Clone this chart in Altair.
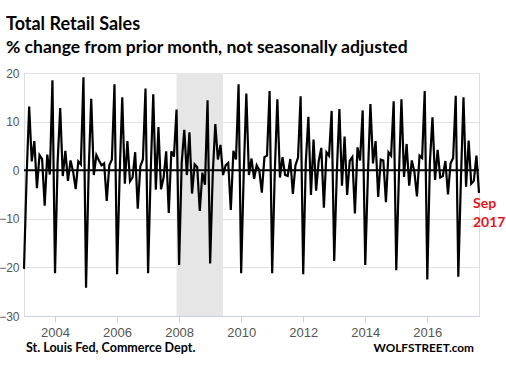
import altair as alt
import pandas as pd

# monthly % change, NSA
v2003 = [-20.3, -1.5, 13.1, 1.8, 6.0, -3.7, 3.1, 2.3, -7.3, 3.2, -0.9, 18.5]
v2004 = [-21.2, 1.5, 12.8, -1.2, 4.0, -2.2, 2.0, -0.3, -3.9, 1.8, 1.2, 19.1]
v2005 = [-24.2, -0.5, 14.7, -1.0, 3.1, 2.0, 1.0, 1.4, -6.3, 1.0, 2.2, 17.7]
v2006 = [-21.4, -1.0, 15.0, -2.8, 6.0, -2.3, -1.5, 3.7, -7.9, 0.8, 2.2, 16.8]
v2007 = [-21.2, -0.5, 15.6, -4.0, 8.9, -3.9, -1.5, 3.9, -8.8, 3.9, 2.8, 12.5]
v2008 = [-19.5, 1.5, 8.3, -1.0, 7.8, -4.8, 1.2, 0.6, -8.4, -0.5, -3.0, 14.4]
v2009 = [-19.2, -1.0, 9.5, 2.2, 5.2, -1.0, 1.0, 1.5, -8.2, 4.0, 2.2, 17.7]
v2010 = [-21.2, -0.5, 15.8, -1.0, 2.4, -1.8, 1.0, 0.0, -4.6, 2.7, 3.0, 16.3]
v2011 = [-21.2, -0.5, 14.6, -1.5, 2.7, -1.0, -1.2, 2.3, -4.9, 1.0, 2.6, 15.2]
v2012 = [-21.4, 1.5, 11.0, -5.1, 6.3, -4.2, 1.9, 4.6, -7.7, 3.7, 3.0, 12.2]
v2013 = [-18.7, -0.5, 12.6, -3.2, 6.9, -5.1, 1.9, 2.7, -8.9, 4.7, 2.0, 12.3]
v2014 = [-19.5, -1.5, 13.6, 1.4, 6.0, -5.5, 2.2, 2.0, -6.6, 3.7, 3.0, 14.2]
v2015 = [-20.6, -1.5, 14.6, -1.4, 5.4, -3.2, 2.0, -0.3, -5.4, 3.0, 2.5, 16.3]
v2016 = [-22.5, 1.5, 10.9, -2.0, 4.2, -1.5, -1.2, 1.9, -5.0, 1.4, 2.5, 15.3]
v2017 = [-21.9, -2.0, 15.0, -3.4, 6.1, -2.8, -2.2, 3.0, -4.7]

years = list(range(2003, 2018))
series = [v2003, v2004, v2005, v2006, v2007, v2008, v2009, v2010,
          v2011, v2012, v2013, v2014, v2015, v2016, v2017]

x_ticks = [2004, 2006, 2008, 2010, 2012, 2014, 2016]
y_ticks = [-30, -20, -10, 0, 10, 20]
recession_start = 2007 + 11 / 12   # Dec 2007
recession_end = 2009 + 5 / 12      # Jun 2009

rows = []
for yr, vals in zip(years, series):
    for m, v in enumerate(vals):
        rows.append({"t": yr + m / 12, "pct": v})
df = pd.DataFrame(rows)

x_dom = [2003, 2017 + 8 / 12]
xs = alt.Scale(domain=x_dom, nice=False, zero=False)
ys = alt.Scale(domain=[-30, 20], nice=False)

x_axis = alt.Axis(values=x_ticks, format="d", grid=False,
                  domainColor="#c5d3e6", tickColor="#c5d3e6",
                  tickSize=6, labelColor="#555555", labelFontSize=13,
                  labelFont="Liberation Sans", labelPadding=4)
y_axis = alt.Axis(values=y_ticks, grid=True, gridColor="#e2e2e2",
                  domain=False, ticks=False, labelColor="#555555",
                  labelFontSize=12, labelFont="Liberation Sans",
                  labelPadding=5)

rec = alt.Chart(pd.DataFrame({"a": [recession_start], "b": [recession_end]})).mark_rect(
    color="#e6e6e6"
).encode(
    x=alt.X("a:Q", scale=xs, axis=x_axis, title=None),
    x2="b:Q",
    y=alt.value(0),
    y2=alt.value(243),
)

zero = alt.Chart(pd.DataFrame({"z": [0]})).mark_rule(color="black", strokeWidth=2).encode(
    y=alt.Y("z:Q", scale=ys, axis=y_axis, title=None)
)

line = alt.Chart(df).mark_line(color="black", strokeWidth=2.2).encode(
    x=alt.X("t:Q", scale=xs, axis=x_axis, title=None),
    y=alt.Y("pct:Q", scale=ys, axis=y_axis, title=None),
)

def txt(s, x, y, size, color="black", align="left", weight="bold", font="Lato"):
    return alt.Chart(pd.DataFrame({"s": [s]})).mark_text(
        align=align, baseline="alphabetic", fontSize=size, fontWeight=weight,
        font=font, color=color
    ).encode(text="s:N", x=alt.value(x), y=alt.value(y))

title = txt("Total Retail Sales", -18, -43, 18)
subtitle = txt("% change from prior month, not seasonally adjusted", -18, -20, 17.5)
src = txt("St. Louis Fed, Commerce Dept.", 2, 279, 12.5)
brand = txt("WOLFSTREET.com", 450, 279, 11.8, align="right")
sep1 = txt("Sep", 449, 135, 14, color="#e8141c")
sep2 = txt("2017", 449, 154, 14, color="#e8141c")

chart = alt.layer(rec, zero, line, title, subtitle, src, brand, sep1, sep2).properties(
    width=455, height=243,
    padding={"left": 24, "top": 73, "right": 27, "bottom": 60},
    autosize="none",
).configure_view(stroke=None).configure(background="white")

chart.save("out.html", embed_options={"renderer": "svg", "actions": False})
